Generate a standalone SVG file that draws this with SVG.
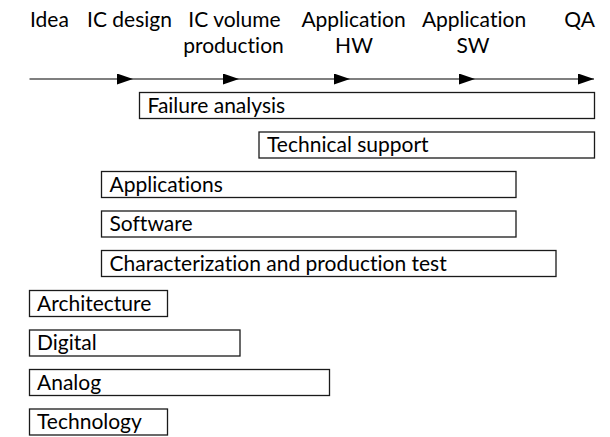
<svg xmlns="http://www.w3.org/2000/svg" width="610" height="437" viewBox="0 0 610 437">
<style>
text{font-family:"Lato","Liberation Sans",sans-serif;font-size:21px;fill:#000;font-variant-ligatures:none}
.hc{text-anchor:middle}
.he{text-anchor:end}
.box{fill:#fff;stroke:#1a1a1a;stroke-width:1.3}
.tl{stroke:#000;stroke-width:1.2;fill:none;marker-end:url(#ah)}
</style>
<defs>
<marker id="ah" markerUnits="userSpaceOnUse" markerWidth="17" markerHeight="12" refX="16" refY="5.5" orient="auto"><path d="M0,0 L16,5.5 L0,11 Z" fill="#000"/></marker>
</defs>
<g id="stages">
<text x="30" y="27">Idea</text>
<text x="87" y="27">IC design</text>
<text class="hc" x="234.5" y="27">IC volume</text>
<text class="hc" x="233.5" y="53">production</text>
<text class="hc" x="353.5" y="27">Application</text>
<text class="hc" x="354" y="53">HW</text>
<text class="hc" x="474" y="27">Application</text>
<text class="hc" x="473" y="53">SW</text>
<text class="he" x="595" y="27">QA</text>
</g>
<g id="connectors">
<line class="tl" x1="29.5" y1="79" x2="133" y2="79"/>
<line class="tl" x1="133" y1="79" x2="239" y2="79"/>
<line class="tl" x1="239" y1="79" x2="350" y2="79"/>
<line class="tl" x1="350" y1="79" x2="475" y2="79"/>
<line class="tl" x1="475" y1="79" x2="594" y2="79"/>
</g>
<g id="failure-analysis"><rect class="box" x="139.5" y="92.5" width="455" height="26"/><text x="147.5" y="112.5">Failure analysis</text></g>
<g id="technical-support"><rect class="box" x="259" y="132" width="335.5" height="26"/><text x="267" y="152">Technical support</text></g>
<g id="applications"><rect class="box" x="101.5" y="171.5" width="414.5" height="26"/><text x="109.5" y="191.5">Applications</text></g>
<g id="software"><rect class="box" x="101.5" y="211" width="414.5" height="26"/><text x="109.5" y="231">Software</text></g>
<g id="characterization"><rect class="box" x="101.5" y="250.5" width="454.5" height="26"/><text x="109.5" y="270.5">Characterization and production test</text></g>
<g id="architecture"><rect class="box" x="29.5" y="290.5" width="138" height="26"/><text x="37" y="310.5">Architecture</text></g>
<g id="digital"><rect class="box" x="29.5" y="330" width="210.5" height="26"/><text x="37" y="350">Digital</text></g>
<g id="analog"><rect class="box" x="29.5" y="369.5" width="300" height="26"/><text x="37" y="389.5">Analog</text></g>
<g id="technology"><rect class="box" x="29.5" y="409" width="138" height="26"/><text x="37" y="429">Technology</text></g>
</svg>
